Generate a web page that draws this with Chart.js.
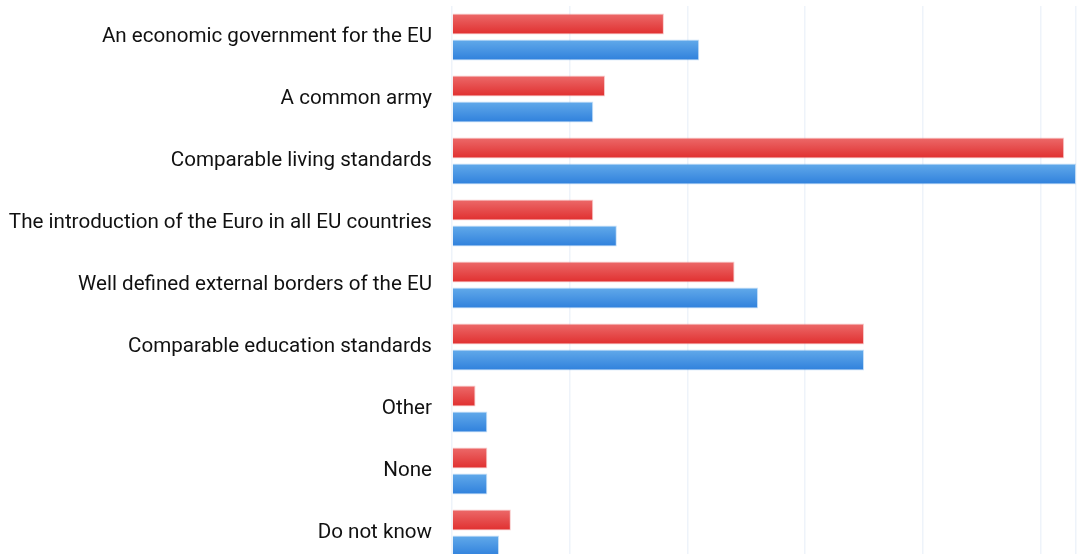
<!DOCTYPE html>
<html>
<head>
<meta charset="utf-8">
<script src="https://cdn.jsdelivr.net/npm/chart.js@4/dist/chart.umd.min.js"></script>
<style>
  html, body { margin: 0; padding: 0; background: #ffffff; overflow: hidden; }
  canvas { display: block; }
</style>
</head>
<body>
<canvas id="chart" width="1080" height="570"></canvas>
<script>
// Survey answers: what the EU should have in common
const categories = [
  'An economic government for the EU',
  'A common army',
  'Comparable living standards',
  'The introduction of the Euro in all EU countries',
  'Well defined external borders of the EU',
  'Comparable education standards',
  'Other',
  'None',
  'Do not know'
];
const seriesRed = [18, 13, 52, 12, 24, 35, 2, 3, 5];
const seriesBlue = [21, 12, 53, 14, 26, 35, 3, 3, 4];

const CATEGORY_PCT = 0.84;
const BAR_PCT = 0.8;

// Vertical gradient fill for each bar, light at the top, deeper at the bottom.
// The bar's band is worked out from the category scale so it is ready before the bar is placed.
function barGradient(top, bottom) {
  return function (ctx) {
    const chart = ctx.chart;
    const yScale = chart.scales && chart.scales.y;
    if (!chart.chartArea || !yScale || ctx.dataIndex === undefined) return bottom;
    const n = chart.data.labels.length;
    const nSets = chart.data.datasets.length;
    const center = yScale.getPixelForValue(ctx.dataIndex);
    const catSize = yScale.height / n;
    const groupSize = catSize * CATEGORY_PCT;
    const slot = groupSize / nSets;
    const barSize = slot * BAR_PCT;
    const barCenter = center - groupSize / 2 + slot * (ctx.datasetIndex + 0.5);
    const y0 = barCenter - barSize / 2;
    const y1 = barCenter + barSize / 2;
    if (!isFinite(y0) || !isFinite(y1)) return bottom;
    const g = chart.ctx.createLinearGradient(0, y0, 0, y1);
    g.addColorStop(0, top);
    g.addColorStop(1, bottom);
    return g;
  };
}

new Chart(document.getElementById('chart'), {
  type: 'bar',
  data: {
    labels: categories,
    datasets: [
      {
        label: 'Series A',
        data: seriesRed,
        backgroundColor: barGradient('#ec6a6a', '#e02f2f'),
        borderColor: 'rgba(236, 110, 110, 0.35)',
        borderWidth: 1,
        categoryPercentage: CATEGORY_PCT,
        barPercentage: BAR_PCT
      },
      {
        label: 'Series B',
        data: seriesBlue,
        backgroundColor: barGradient('#62aaea', '#2f80dc'),
        borderColor: 'rgba(98, 170, 234, 0.35)',
        borderWidth: 1,
        categoryPercentage: CATEGORY_PCT,
        barPercentage: BAR_PCT
      }
    ]
  },
  options: {
    indexAxis: 'y',
    responsive: false,
    animation: false,
    layout: { padding: { top: 6, bottom: 6, left: 0, right: 4 } },
    plugins: {
      legend: { display: false },
      tooltip: { enabled: false }
    },
    scales: {
      x: {
        min: 0,
        max: 53,
        ticks: { display: false, stepSize: 10 },
        grid: { color: '#eef3fa', lineWidth: 1.5, drawTicks: false },
        border: { display: false }
      },
      y: {
        ticks: {
          color: '#111111',
          font: { family: 'Roboto', size: 20.6 },
          padding: 20
        },
        grid: { display: false, drawTicks: false },
        border: { display: false },
        // fixed label column; the label gap is horizontal only, so the plot
        // runs to the top and bottom of the canvas
        afterFit(scale) {
          scale.width = 452;
          scale.paddingTop = 0;
          scale.paddingBottom = 0;
        }
      }
    }
  }
});
</script>
</body>
</html>
